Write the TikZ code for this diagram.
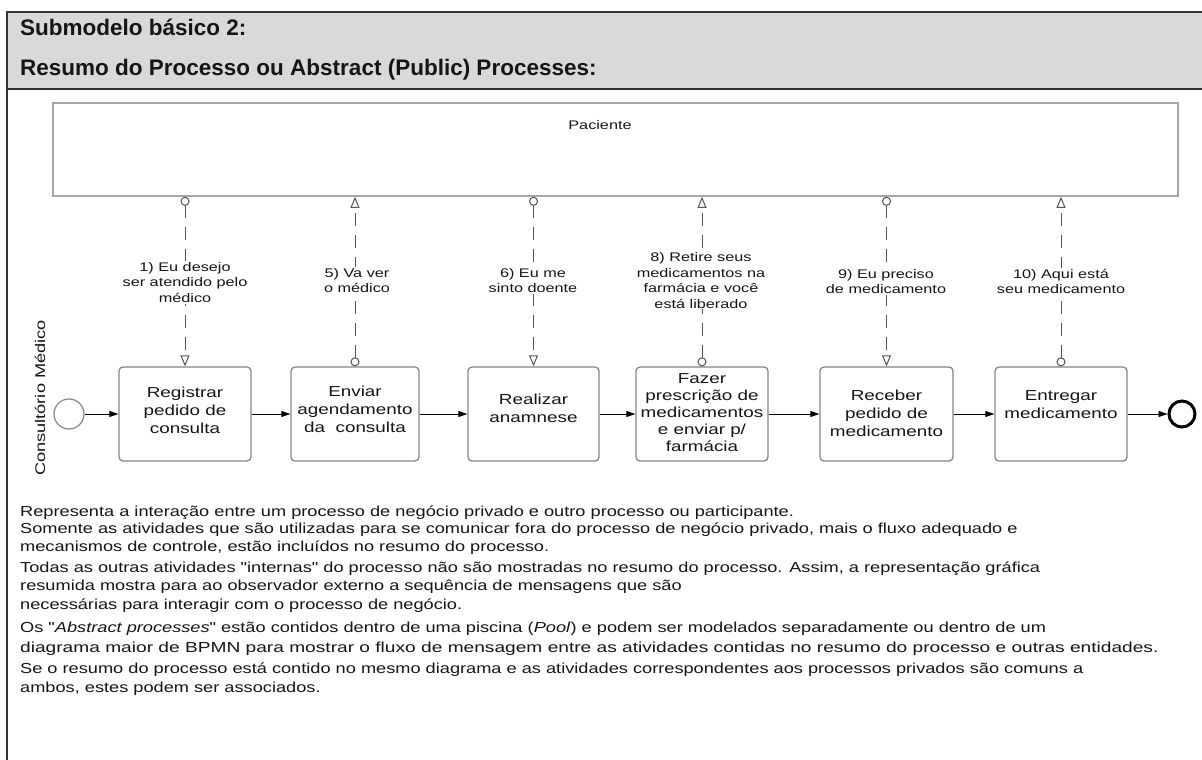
\documentclass[tikz,border=0pt]{standalone}
\usepackage{fontspec}
\setmainfont{Liberation Sans}[FakeStretch=1.3]
\newfontfamily\headfont{Liberation Sans}
\newfontfamily\bodyfont{Liberation Sans}[FakeStretch=1.255]
\newfontfamily\widebodyfont{Liberation Sans}[FakeStretch=1.32]
\usetikzlibrary{arrows.meta}

\definecolor{framecol}{HTML}{333333}
\definecolor{headgray}{HTML}{D9D9D9}
\definecolor{poolgray}{HTML}{A6A6A6}
\definecolor{taskgray}{HTML}{858585}
\definecolor{msggray}{HTML}{555555}
\definecolor{inkcol}{HTML}{151515}

\begin{document}
\begin{tikzpicture}[x=1pt,y=-1pt,
  headtext/.style={anchor=mid west, inner sep=0pt, text=inkcol,
    font=\headfont\bfseries\fontsize{22.5}{25}\selectfont},
  bodytext/.style={anchor=mid west, inner sep=0pt, text=inkcol,
    font=\bodyfont\fontsize{14.5}{17}\selectfont},
  taskbox/.style={draw=taskgray, line width=1.3pt, rounded corners=4pt,
    minimum height=94pt, inner sep=0pt, fill=white},
  tasktext/.style={align=center, inner sep=0pt, text=inkcol,
    font=\fontsize{14.5}{18}\selectfont},
  msglabel/.style={align=center, inner sep=1pt, fill=white, text=inkcol,
    font=\fontsize{12.5}{15.5}\selectfont},
  seqflow/.style={draw=black, line width=0.9pt,
    -{Triangle[length=9pt,width=6pt]}},
  msgflow/.style={draw=msggray, line width=1pt, dash pattern=on 13pt off 9pt,
    {Circle[open,length=9pt,width=9pt]}-{Triangle[open,length=11pt,width=9pt]}}
]
\useasboundingbox (0,0) rectangle (1202,760);

% header band and outer frame
\fill[headgray] (7,12) rectangle (1203,89);
\draw[framecol, line width=2pt] (7,760) -- (7,12) -- (1203,12);
\draw[framecol, line width=2pt] (7,89) -- (1203,89);
\node[headtext] (title1) at (20,33) {Submodelo básico 2:};
\node[headtext] (title2) at (20,73) {Resumo do Processo ou Abstract (Public) Processes:};

% participant pool
\node[draw=poolgray, line width=1.6pt, minimum width=1125pt, minimum height=93pt,
  inner sep=0pt] (pool) at (615.5,149.5) {};
\node[inner sep=0pt, text=inkcol, font=\fontsize{12.5}{15}\selectfont]
  (paciente) at (600,125) {Paciente};

% lane name
\node[rotate=90, inner sep=0pt, text=inkcol, font=\fontsize{14}{16}\selectfont]
  (lane) at (40,398) {Consultório Médico};

% events
\node[circle, draw=taskgray, line width=1.2pt, minimum size=30pt, inner sep=0pt]
  (start) at (69,414) {};
\node[circle, draw=black, line width=3pt, minimum size=26pt, inner sep=0pt]
  (stop) at (1182,414) {};

% tasks
\node[taskbox, minimum width=132pt] (t1) at (185,414) {};
\node[taskbox, minimum width=128pt] (t2) at (355,414) {};
\node[taskbox, minimum width=131pt] (t3) at (533.5,414) {};
\node[taskbox, minimum width=132pt] (t4) at (702,414) {};
\node[taskbox, minimum width=133pt] (t5) at (886.5,414) {};
\node[taskbox, minimum width=132pt] (t6) at (1061,414) {};

\node[tasktext] (t1l) at (185,410) {Registrar\\pedido de\\consulta};
\node[tasktext] (t2l) at (355,409) {Enviar\\agendamento\\da~ consulta};
\node[tasktext] (t3l) at (533.5,408.5) {Realizar\\anamnese};
\node[tasktext, font=\fontsize{14.5}{17}\selectfont] (t4l) at (702,413)
  {Fazer\\prescrição de\\medicamentos\\e enviar p/\\farmácia};
\node[tasktext] (t5l) at (886.5,413) {Receber\\pedido de\\medicamento};
\node[tasktext] (t6l) at (1061,405) {Entregar\\medicamento};

% sequence flow
\draw[seqflow] (start) -- (t1);
\draw[seqflow] (t1) -- (t2);
\draw[seqflow] (t2) -- (t3);
\draw[seqflow] (t3) -- (t4);
\draw[seqflow] (t4) -- (t5);
\draw[seqflow] (t5) -- (t6);
\draw[seqflow] (t6) -- (stop);

% message flows between the pool and the tasks
\draw[msgflow] (pool.south -| t1.north) -- (t1.north);
\draw[msgflow] (t2.north) -- (pool.south -| t2.north);
\draw[msgflow] (pool.south -| t3.north) -- (t3.north);
\draw[msgflow] (t4.north) -- (pool.south -| t4.north);
\draw[msgflow] (pool.south -| t5.north) -- (t5.north);
\draw[msgflow] (t6.north) -- (pool.south -| t6.north);

\node[msglabel] (m1) at (185,282.5) {1) Eu desejo\\ser atendido pelo\\médico};
\node[msglabel] (m5) at (357,280.5) {5) Va ver\\o médico};
\node[msglabel] (m6) at (533,280.5) {6) Eu me\\sinto doente};
\node[msglabel] (m8) at (701,280.5) {8) Retire seus\\medicamentos na\\farmácia e você\\está liberado};
\node[msglabel] (m9) at (886,281.5) {9) Eu preciso\\de medicamento};
\node[msglabel] (m10) at (1061,281.5) {10) Aqui está\\seu medicamento};

% description
\node[bodytext] (d1) at (20,514) {Representa a interação entre um processo de negócio privado e outro processo ou participante.};
\node[bodytext] (d2) at (20,531) {Somente as atividades que são utilizadas para se comunicar fora do processo de negócio privado, mais o fluxo adequado e};
\node[bodytext] (d3) at (20,549) {mecanismos de controle, estão incluídos no resumo do processo.};
\node[bodytext] (d4) at (20,570) {Todas as outras atividades "internas" do processo não são mostradas no resumo do processo. Assim, a representação gráfica};
\node[bodytext] (d5) at (20,588) {resumida mostra para ao observador externo a sequência de mensagens que são};
\node[bodytext] (d6) at (20,607) {necessárias para interagir com o processo de negócio.};
\node[bodytext] (d7) at (20,630) {Os "\textit{Abstract processes}" estão contidos dentro de uma piscina (\textit{Pool}) e podem ser modelados separadamente ou dentro de um};
\node[bodytext, font=\widebodyfont\fontsize{14.5}{17}\selectfont] (d8) at (20,650) {diagrama maior de BPMN para mostrar o fluxo de mensagem entre as atividades contidas no resumo do processo e outras entidades.};
\node[bodytext] (d9) at (20,671) {Se o resumo do processo está contido no mesmo diagrama e as atividades correspondentes aos processos privados são comuns a};
\node[bodytext] (d10) at (20,690) {ambos, estes podem ser associados.};
\end{tikzpicture}
\end{document}
